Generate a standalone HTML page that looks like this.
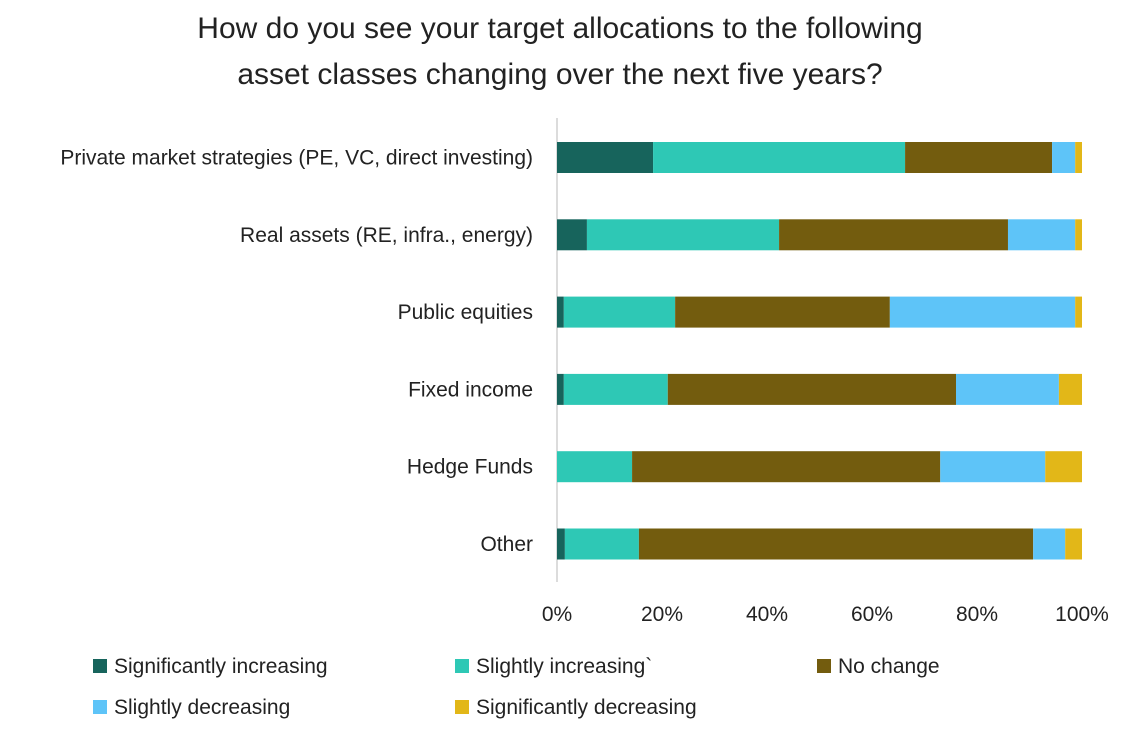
<!DOCTYPE html>
<html><head><meta charset="utf-8"><style>
body{margin:0;background:#fff;font-family:"Liberation Sans",sans-serif;}
svg text{font-family:"Liberation Sans",sans-serif;fill:#222;}
</style></head><body>
<svg width="1125" height="727">
<text x="560" y="38" font-size="30" text-anchor="middle">How do you see your target allocations to the following</text>
<text x="560" y="84" font-size="30" text-anchor="middle">asset classes changing over the next five years?</text>
<g id="plot"></g>
<g id="legend"></g>
</svg>
<script>
const categories=["Private market strategies (PE, VC, direct investing)","Real assets (RE, infra., energy)","Public equities","Fixed income","Hedge Funds","Other"];
const seriesNames=["Significantly increasing","Slightly increasing`","No change","Slightly decreasing","Significantly decreasing"];
const sigInc=[18.3,5.7,1.3,1.3,0,1.5];
const slightInc=[48.0,36.6,21.2,19.8,14.3,14.1];
const noChange=[28.0,43.6,40.9,54.9,58.7,75.1];
const slightDec=[4.4,12.8,35.3,19.6,20.0,6.1];
const sigDec=[1.3,1.3,1.3,4.4,7.0,3.2];
const tickLabels=["0%","20%","40%","60%","80%","100%"];
const tickValues=[0,20,40,60,80,100];
const colors=["#17645c","#2ec8b5","#735c0e","#5ec4f8","#e2b718"];
const series=[sigInc,slightInc,noChange,slightDec,sigDec];
const NS="http://www.w3.org/2000/svg";
const x0=557,x1=1082;
const xs=v=>x0+(x1-x0)*v/100;
const yc=i=>157.5+i*77.3;
const bh=31;
const plot=document.getElementById('plot');
function mk(t,a,p){const e=document.createElementNS(NS,t);for(const k in a)e.setAttribute(k,a[k]);p.appendChild(e);return e;}
const ax=mk('line',{x1:x0,x2:x0,y1:118,y2:582,stroke:'#d0d0d0','stroke-width':1.5},plot);


categories.forEach((c,i)=>{
  const t=mk('text',{x:533,y:yc(i)+7,'font-size':21,'text-anchor':'end'},plot);
  t.textContent=c;
  
  
  let acc=0;
  series.forEach((s,j)=>{
    const v=s[i];
    if(v>0){
      const r=mk('rect',{x:xs(acc),y:yc(i)-bh/2,width:xs(acc+v)-xs(acc),height:bh,fill:colors[j]},plot);
      
      
    }
    acc+=v;
  });
});
tickValues.forEach((v,i)=>{
  const t=mk('text',{x:xs(v),y:621,'font-size':21,'text-anchor':'middle'},plot);
  t.textContent=tickLabels[i];
  
  
});
const lg=document.getElementById('legend');
const lpos=[[93,666],[455,666],[817,666],[93,707],[455,707]];
seriesNames.forEach((n,j)=>{
  const g=mk('g',{},lg);
  
  
  mk('rect',{x:lpos[j][0],y:lpos[j][1]-7,width:14,height:14,fill:colors[j]},g);
  const t=mk('text',{x:lpos[j][0]+21,y:lpos[j][1]+7,'font-size':21},g);
  t.textContent=n;
});
</script>
</body></html>
